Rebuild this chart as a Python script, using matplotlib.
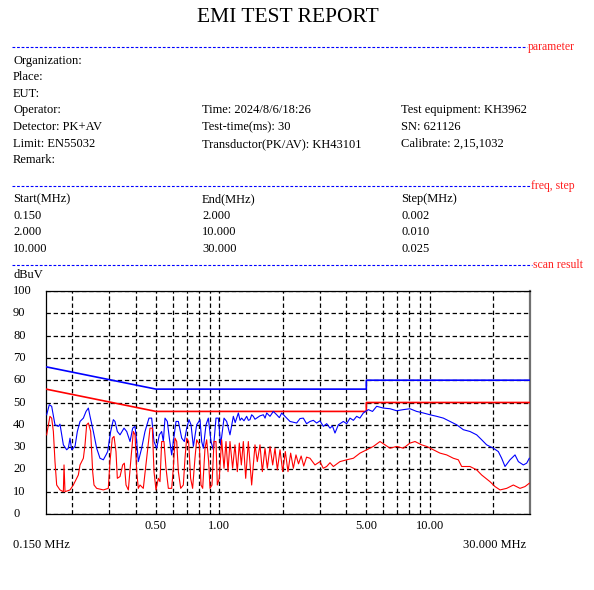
import matplotlib
matplotlib.use("Agg")
import matplotlib.pyplot as plt
from matplotlib.lines import Line2D
from matplotlib.transforms import blended_transform_factory

FONT = "Liberation Serif"
W, H = 594, 590

# header fields
title = "EMI TEST REPORT"
param_rows = [
    ["Organization:", "", ""],
    ["Place:", "", ""],
    ["EUT:", "", ""],
    ["Operator:", "Time: 2024/8/6/18:26", "Test equipment: KH3962"],
    ["Detector: PK+AV", "Test-time(ms): 30", "SN: 621126"],
    ["Limit: EN55032", "Transductor(PK/AV): KH43101", "Calibrate: 2,15,1032"],
    ["Remark:", "", ""],
]
freq_rows = [
    ["Start(MHz)", "End(MHz)", "Step(MHz)"],
    ["0.150", "2.000", "0.002"],
    ["2.000", "10.000", "0.010"],
    ["10.000", "30.000", "0.025"],
]

# limits (EN55032 class B)
limit_freq = [0.15, 0.5, 5.0, 5.0, 30.0]
qp_limit = [66, 56, 56, 60, 60]
av_limit = [56, 46, 46, 50, 50]

# peak trace (MHz, dBuV)
pk_freq = [0.1511, 0.1555, 0.1596, 0.1655, 0.1717, 0.1748, 0.1814, 0.1881, 0.1915, 0.1951,
           0.1986, 0.2061, 0.2114, 0.2177, 0.2258, 0.2325, 0.2385, 0.2429, 0.2519, 0.2612,
           0.2709, 0.2810, 0.2893, 0.2946, 0.3045, 0.3135, 0.3192, 0.3275, 0.3373, 0.3524,
           0.3629, 0.3764, 0.3875, 0.3975, 0.4048, 0.4121, 0.4274, 0.4433, 0.4631, 0.4769,
           0.4893, 0.5038, 0.5187, 0.5321, 0.5419, 0.5519, 0.5662, 0.5787, 0.5937, 0.6046,
           0.6226, 0.6388, 0.6626, 0.6821, 0.6998, 0.7180, 0.7338, 0.7528, 0.7807, 0.8097,
           0.8246, 0.8396, 0.8644, 0.8868, 0.9131, 0.9367, 0.9645, 0.9895, 1.015, 1.053,
           1.084, 1.124, 1.166, 1.190, 1.209, 1.232, 1.255, 1.277, 1.310, 1.349, 1.375,
           1.399, 1.425, 1.451, 1.478, 1.505, 1.560, 1.619, 1.650, 1.680, 1.742, 1.806,
           1.874, 1.930, 1.980, 2.090, 2.168, 2.332, 2.420, 2.508, 2.600, 2.699, 2.800,
           2.903, 3.010, 3.123, 3.240, 3.360, 3.450, 3.548, 3.681, 3.888, 4.030, 4.182,
           4.340, 4.498, 4.660, 4.839, 5.110, 5.350, 5.601, 6.024, 6.480, 6.970, 7.497,
           8.065, 8.675, 9.333, 10.04, 10.80, 11.62, 12.50, 13.45, 14.46, 15.55, 16.73,
           17.67, 18.67, 20.08, 21.21, 22.00, 22.82, 24.10, 25.46, 26.41, 27.89, 28.93,
           29.78]
pk_db = [44.5, 49.0, 48.3, 40.0, 39.3, 40.3, 31.0, 28.8, 29.5, 34.0,
         28.8, 30.3, 37.0, 41.5, 43.0, 46.0, 47.5, 43.8, 37.0, 29.5,
         25.0, 24.3, 26.5, 28.0, 37.0, 42.3, 41.5, 37.0, 35.5, 38.5,
         37.0, 32.5, 38.5, 39.3, 32.5, 23.5, 29.5, 37.0, 43.0, 43.0,
         32.5, 29.5, 35.5, 37.0, 32.5, 43.0, 41.5, 34.0, 26.5, 32.5,
         41.5, 41.5, 34.0, 32.5, 38.5, 42.3, 40.0, 30.3, 40.0, 42.3,
         32.5, 29.5, 40.0, 43.0, 32.5, 28.8, 43.0, 43.0, 31.0, 43.0,
         41.5, 35.5, 43.8, 41.0, 43.0, 45.3, 42.0, 43.0, 41.8, 43.8, 42.0,
         42.3, 44.5, 43.8, 42.5, 43.0, 44.0, 44.5, 43.0, 45.3, 43.8, 46.0,
         44.5, 43.2, 45.3, 43.0, 41.5, 40.8, 42.8, 43.0, 40.5, 41.5, 42.0,
         40.8, 41.8, 39.3, 40.5, 38.5, 39.5, 36.3, 40.0, 41.5, 40.5, 43.0,
         42.0, 43.8, 43.0, 45.3, 46.8, 46.0, 48.3, 47.5, 47.2, 46.3, 46.8,
         47.2, 46.0, 45.3, 44.5, 43.8, 43.0, 41.5, 40.0, 37.8, 37.0, 35.5,
         33.3, 31.0, 29.5, 28.0, 25.0, 21.3, 24.3, 26.5, 23.5, 22.0, 22.8,
         25.0]

# average trace (MHz, dBuV)
av_freq = [0.1511, 0.1566, 0.1596, 0.1626, 0.1655, 0.1686, 0.1748, 0.1814, 0.1827, 0.1847,
           0.1951, 0.2023, 0.2098, 0.2137, 0.2177, 0.2258, 0.2299, 0.2341, 0.2385, 0.2446,
           0.2500, 0.2537, 0.2612, 0.2810, 0.2967, 0.3021, 0.3100, 0.3158, 0.3227, 0.3275,
           0.3373, 0.3472, 0.3536, 0.3602, 0.3695, 0.3791, 0.3903, 0.3975, 0.4048, 0.4121,
           0.4198, 0.4352, 0.4516, 0.4684, 0.4805, 0.4893, 0.5000, 0.5130, 0.5224, 0.5321,
           0.5458, 0.5580, 0.5725, 0.5937, 0.6046, 0.6159, 0.6273, 0.6388, 0.6553, 0.6745,
           0.6869, 0.6998, 0.7147, 0.7305, 0.7467, 0.7661, 0.7807, 0.8038, 0.8185, 0.8336,
           0.8550, 0.8707, 0.8901, 0.9032, 0.9232, 0.9436, 0.9645, 0.9786, 1.000, 1.026,
           1.053, 1.076, 1.100, 1.124, 1.157, 1.187, 1.218, 1.245, 1.273, 1.301, 1.335,
           1.374, 1.425, 1.478, 1.516, 1.561, 1.602, 1.649, 1.692, 1.742, 1.794, 1.840,
           1.888, 1.944, 2.001, 2.060, 2.121, 2.184, 2.249, 2.315, 2.380, 2.450, 2.520,
           2.600, 2.699, 2.850, 3.011, 3.120, 3.239, 3.360, 3.485, 3.748, 4.032, 4.338,
           4.666, 5.019, 5.400, 5.808, 6.135, 6.480, 6.970, 7.497, 8.065, 8.518, 9.164,
           9.681, 10.41, 11.20, 12.05, 12.96, 13.69, 14.20, 15.55, 16.73, 17.67, 19.36,
           20.45, 21.61, 23.24, 25.00, 26.89, 28.40, 29.78]
av_db = [35.5, 43.8, 43.0, 37.0, 23.5, 13.0, 10.8, 10.0, 22.0, 10.0,
         10.8, 13.0, 16.0, 17.5, 22.0, 25.0, 31.0, 40.0, 40.8, 37.0,
         19.0, 13.0, 11.5, 10.8, 11.5, 23.5, 34.0, 34.8, 28.0, 16.0,
         16.8, 22.0, 22.8, 13.0, 10.8, 23.5, 37.0, 35.5, 19.0, 11.5,
         13.0, 11.5, 25.0, 38.5, 38.5, 19.0, 10.8, 16.0, 14.5, 32.5,
         32.5, 20.5, 11.5, 11.5, 20.5, 34.0, 32.5, 19.0, 11.5, 13.0,
         25.0, 34.0, 32.5, 16.0, 11.5, 25.0, 33.3, 31.0, 13.0, 11.5,
         29.5, 33.3, 23.5, 11.5, 13.0, 32.5, 32.5, 13.0, 16.0, 33.3,
         20.5, 32.5, 19.0, 32.5, 20.5, 31.0, 19.0, 31.8, 22.0, 32.5, 16.0,
         32.5, 13.0, 31.0, 23.5, 31.0, 19.0, 29.5, 20.5, 30.3, 22.0, 29.5,
         19.8, 28.8, 19.0, 28.0, 19.0, 27.3, 20.5, 26.5, 22.5, 26.0, 21.5,
         25.5, 25.0, 22.0, 23.5, 20.5, 21.3, 23.0, 21.3, 23.5, 24.3, 25.0,
         27.3, 28.8, 30.3, 32.5, 31.0, 29.5, 30.3, 29.5, 31.8, 32.5, 31.0,
         30.3, 28.8, 27.3, 26.5, 25.0, 24.3, 21.3, 21.3, 19.8, 17.5, 14.5,
         12.3, 10.8, 11.5, 13.0, 11.5, 12.3, 13.8]

x_major = [0.5, 1.0, 5.0, 10.0]
x_minor = [0.2, 0.3, 0.4, 0.6, 0.7, 0.8, 0.9, 2, 3, 4, 6, 7, 8, 9, 20]
y_ticks = list(range(0, 101, 10))

TXT = 9


def fx(px):
    return px / W


def fy(py):
    return 1 - py / H


fig = plt.figure(figsize=(W / 100, H / 100), dpi=100)
fig.patch.set_facecolor("white")

fig.text(fx(288), fy(18), title, fontsize=15.5, family=FONT, ha="center", va="center")

# section separators
separators = [(47, 527, "parameter"), (186, 530, "freq, step"), (265, 532, "scan result")]
for py, x_end, label in separators:
    fig.add_artist(Line2D([fx(12), fx(x_end)], [fy(py), fy(py)], transform=fig.transFigure,
                          color="#0000FF", linewidth=0.8, linestyle=(0, (2.5, 1.6))))
    fig.text(fx(x_end + 1), fy(py), label, fontsize=8.5, family=FONT, color="#FF2020",
             ha="left", va="center")

col_x = [13, 202, 401]
row_y = [61, 77, 94, 110, 127, 144, 160]
for py, row in zip(row_y, param_rows):
    for px, txt in zip(col_x, row):
        if txt:
            fig.text(fx(px), fy(py), txt, fontsize=TXT, family=FONT, ha="left", va="center")

for py, row in zip([199, 216, 232, 249], freq_rows):
    for px, txt in zip(col_x, row):
        fig.text(fx(px), fy(py), txt, fontsize=TXT, family=FONT, ha="left", va="center")

fig.text(fx(13), fy(275), "dBuV", fontsize=TXT, family=FONT, ha="left", va="center")

# scan plot
ax = fig.add_axes([fx(46), fy(514), 484 / W, 223 / H])
ax.set_xscale("log")
ax.set_xlim(0.15, 30)
ax.set_ylim(0, 100)

ax.set_xticks(x_major)
ax.set_xticklabels([f"{v:.2f}" for v in x_major], fontsize=TXT, family=FONT)
ax.set_xticks(x_minor, minor=True)
ax.set_xticklabels([], minor=True)
ax.set_yticks(y_ticks)
ax.set_yticklabels([])
ax.tick_params(which="both", length=0, pad=4)
ax.grid(True, which="both", axis="x", color="black", linewidth=0.9, linestyle=(0, (3.5, 2.2)))
ax.grid(True, which="major", axis="y", color="black", linewidth=0.9, linestyle=(0, (3.5, 2.2)))

for side in ["left", "top", "bottom"]:
    ax.spines[side].set_color("black")
    ax.spines[side].set_linewidth(0.9)
ax.spines["right"].set_color("#707070")
ax.spines["right"].set_linewidth(1.6)

trans = blended_transform_factory(fig.transFigure, ax.transData)
for v in y_ticks:
    ax.text(fx(13), v, str(v), transform=trans, fontsize=TXT, family=FONT,
            ha="left", va="center", clip_on=False)

ax.plot(limit_freq, qp_limit, color="#0000FF", linewidth=1.2, zorder=3)
ax.plot(limit_freq, av_limit, color="#FF0000", linewidth=1.2, zorder=3)
ax.plot(pk_freq, pk_db, color="#0000FF", linewidth=0.8, zorder=4)
ax.plot(av_freq, av_db, color="#FF0000", linewidth=0.8, zorder=4)

fig.text(fx(13), fy(545), "0.150 MHz", fontsize=TXT, family=FONT, ha="left", va="center")
fig.text(fx(526), fy(545), "30.000 MHz", fontsize=TXT, family=FONT, ha="right", va="center")

fig.savefig("out.png", dpi=100, facecolor="white")
